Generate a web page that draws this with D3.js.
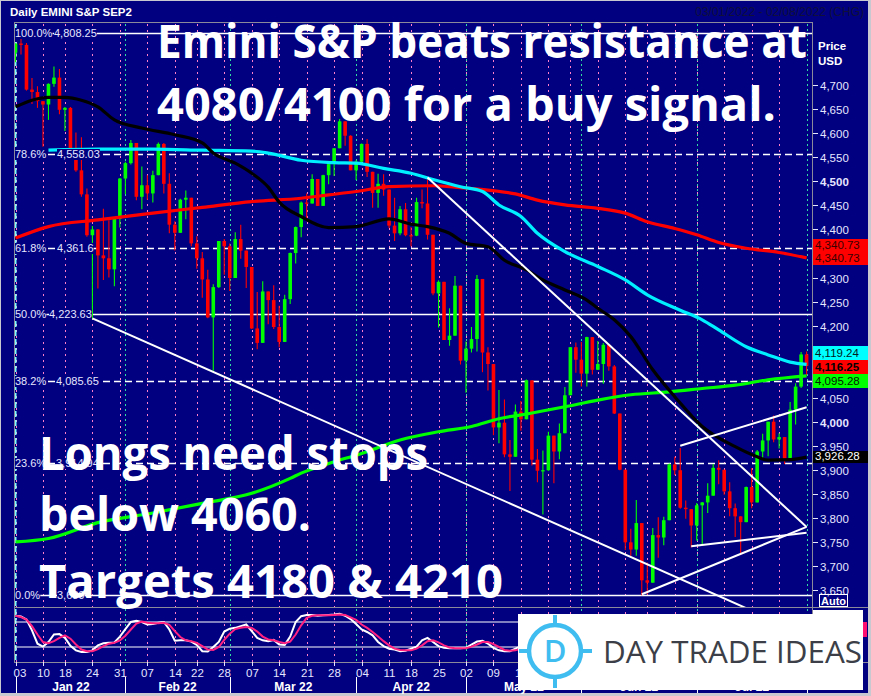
<!DOCTYPE html>
<html><head><meta charset="utf-8">
<script src="https://cdn.jsdelivr.net/npm/d3@7/dist/d3.min.js"></script>
<style>html,body{margin:0;padding:0;background:#fff;}svg{display:block;}</style>
</head><body>
<svg id="chart" width="871" height="696"></svg>
<script>
// ---------- DATA ----------
const jan=[3,4,5,6,7,10,11,12,13,14,18,19,20,21,24,25,26,27,28,31];
const feb=[1,2,3,4,7,8,9,10,11,14,15,16,17,18,22,23,24,25,28];
const mar=[1,2,3,4,7,8,9,10,11,14,15,16,17,18,21,22,23,24,25,28,29,30,31];
const apr=[1,4,5,6,7,8,11,12,13,14,18,19,20,21,22,25,26,27,28,29];
const may=[2,3,4,5,6,9,10,11,12,13,16,17,18,19,20,23,24,25,26,27,31];
const jun=[1,2,3,6,7,8,9,10,13,14,15,16,17,21,22,23,24,27,28,29,30];
const jul=[1,5,6,7,8,11,12,13,14,15,18,19,20,21,22,25,26,27,28,29];
const aug=[1];
const pad=n=>String(n).padStart(2,"0");
const dates=[jan,feb,mar,apr,may,jun,jul,aug].flatMap((ds,m)=>ds.map(d=>`2022-${pad(m+1)}-${pad(d)}`));

const openP=[4768,4787,4784,4691,4686,4667,4660,4703,4716,4649,4653,4567,4523,4473,4388,4400,4346,4340,4317,4422,
4506,4538,4580,4468,4492,4475,4513,4578,4495,4410,4393,4462,4466,4371,4340,4296,4217,4280,4376,
4365,4299,4380,4356,4322,4194,4164,4271,4253,4197,4166,4255,4351,4405,4456,4454,4505,4449,4513,4536,4569,4625,4595,
4523,4541,4578,4520,4476,4495,4483,4408,4392,4442,4388,4387,4457,4454,4389,4267,4291,4170,4179,4283,
4127,4152,4172,4297,4144,4120,3988,3998,3932,3927,4021,4005,4086,3921,3898,3899,3971,3938,3976,4055,4155,
4129,4100,4176,4108,4120,4160,4115,4017,3900,3749,3734,3789,3670,3665,3764,3759,3795,3911,3899,3821,3818,
3784,3826,3832,3846,3904,3900,3855,3820,3803,3791,3864,3832,3938,3961,4000,3963,3968,3922,4025,4073,
4140];
const highP=[4787,4808.25,4788,4715,4698,4667,4704,4739,4734,4655,4655,4602,4592,4485,4407,4401,4443,4419,4423,4507,
4541,4586,4580,4531,4513,4522,4581,4580,4517,4417,4464,4481,4466,4386,4353,4316,4286,4376,4380,
4371,4394,4410,4356,4322,4270,4292,4271,4284,4241,4264,4352,4406,4458,4475,4515,4505,4514,4539,4569,4630,4625,4596,
4544,4579,4588,4520,4516,4515,4483,4466,4449,4455,4405,4466,4483,4508,4389,4294,4291,4236,4303,4283,
4167,4197,4305,4297,4155,4120,4066,4046,3962,4036,4043,4088,4086,3943,3940,3979,3971,3996,4072,4155,4165,
4166,4177,4176,4168,4164,4160,4118,4017,3900,3777,3837,3789,3707,3779,3801,3802,3913,3927,3945,3836,3818,
3831,3833,3872,3912,3920,3900,3874,3830,3803,3865,3903,3941,3975,4000,4013,3976,3968,4041,4080,4145,
4146];
const lowP=[4748,4764,4689,4661,4653,4572,4628,4697,4640,4605,4559,4520,4468,4385,4213,4277,4295,4300,4282,4404,
4474,4535,4461,4442,4462,4456,4513,4475,4392,4356,4393,4421,4365,4318,4258,4215,4106,4278,4306,
4272,4299,4339,4278,4193,4151,4164,4203,4193,4155,4166,4245,4329,4384,4417,4454,4449,4449,4494,4511,4569,4574,4523,
4503,4534,4509,4445,4445,4470,4403,4376,4388,4386,4365,4386,4444,4379,4263,4196,4170,4158,4179,4119,
4060,4144,4146,4103,4065,3972,3955,3926,3856,3927,3981,4005,3909,3874,3807,3898,3872,3922,3976,4055,4102,
4073,4073,4098,4108,4079,4106,4016,3899,3733,3721,3721,3639,3641,3665,3717,3743,3795,3889,3819,3798,3738,
3753,3743,3810,3846,3870,3848,3803,3760,3723,3791,3820,3832,3923,3928,3957,3944,3912,3922,3994,4070,
4097];
const closeP=[4787,4784,4691,4686,4667,4660,4703,4716,4649,4653,4567,4523,4473,4388,4400,4346,4340,4317,4422,4506,
4538,4580,4468,4492,4475,4513,4578,4495,4410,4393,4462,4466,4371,4340,4296,4217,4280,4376,4365,
4299,4380,4356,4322,4194,4164,4271,4253,4197,4166,4255,4351,4405,4456,4454,4505,4449,4513,4536,4569,4625,4595,4523,
4541,4578,4520,4476,4495,4483,4408,4392,4442,4388,4387,4457,4454,4389,4267,4291,4170,4179,4283,4127,
4152,4172,4297,4144,4120,3988,3998,3932,3927,4021,4005,4086,3921,3898,3899,3971,3938,3976,4055,4155,4129,
4100,4176,4108,4120,4160,4115,4017,3900,3749,3734,3789,3670,3665,3764,3759,3795,3911,3899,3821,3818,3784,
3826,3832,3846,3904,3900,3855,3820,3803,3791,3864,3832,3938,3961,4000,3963,3968,3922,4025,4073,4140,
4116.25];

// moving averages (bar index, value)
const blackIdx=[0,3,6,9,12,15,18,23,29,34,36,40,43,46,48,52,57,62,68,72,75,79,82,86,89,93,96,100,104,106,109,112,116,120,125,131,135,137,141,144];
const blackVal=[4655,4669,4675,4675,4669,4655,4628,4611,4597,4580,4559,4538,4517,4488,4457,4427,4404,4406,4422,4411,4406,4392,4371,4364,4336,4316,4295,4274,4253,4236,4212,4177,4108,4052,3990,3948,3927,3920,3921,3926.28];
const cyanIdx=[6,15,25,34,43,46,52,58,62,67,72,76,81,85,88,92,95,100,106,111,115,121,125,128,133,137,141,144];
const cyanVal=[4565,4567,4567,4565,4563,4559,4544,4539,4538,4527,4517,4504,4489,4479,4451,4427,4392,4354,4323,4295,4264,4232,4212,4191,4156,4139,4124,4119.24];
const redIdx=[0,6,15,25,34,43,52,57,62,68,76,81,86,91,95,100,106,111,115,120,124,128,133,139,144];
const redVal=[4382,4406,4420,4434,4446,4458,4465,4472,4479,4489,4491,4487,4482,4474,4461,4451,4444,4434,4416,4402,4389,4373,4361,4352,4340.73];
const greenIdx=[0,6,15,25,34,43,50,52,57,63,70,77,83,88,94,100,106,112,119,125,131,137,144];
const greenVal=[3750,3757,3790,3810,3830,3851,3882,3893,3913,3934,3962,3979,3990,4006,4018,4031,4045,4056,4062,4069,4076,4087,4095.28];

// trend lines (bar index, price) start / end
const trendFrom=[[14,4215],[75,4508],[121,3950],[123,3741],[114,3641]];
const trendTo=[[133,3612],[144,3781],[144,4030],[144,3769],[144,3781]];

// Fibonacci retracement
const fibPct=["100.0%","78.6%","61.8%","50.0%","38.2%","23.6%","0.0%"];
const fibPrice=[4808.25,4558.03,4361.6,4223.63,4085.65,3914.94,3639.00];
const fibText=["4,808.25","4,558.03","4,361.6","4,223.63","4,085.65","3,914.94","3,639"];
const fibDashed=[false,true,true,false,true,true,false];

// stochastic (bars 0..92, the rest hidden by the logo)
const stochK=[95,93,86,60,28,21,32,50,51,42,23,12,8,8,12,24,29,30,31,45,63,80,83,80,74,75,78,80,62,35,36,36,33,25,10,9,20,32,57,64,66,70,74,58,42,36,34,37,26,25,45,80,94,97,97,95,96,97,98,100,95,87,75,62,56,48,32,22,16,14,10,11,16,21,36,42,32,22,18,17,17,17,18,26,33,35,28,18,12,10,10,16,22];
const stochD=[95,92,86,70,50,32,29,34,42,48,40,26,14,10,10,15,22,28,30,36,47,62,76,81,78,77,77,78,73,58,44,36,34,30,22,14,13,20,37,52,63,66,68,66,57,45,38,36,32,29,33,50,72,90,95,96,96,96,97,98,97,91,85,74,66,56,45,34,24,16,13,12,12,16,24,34,36,31,24,19,17,17,17,21,26,32,32,27,20,13,11,12,16];

// axis
const priceTicks=[3650,3700,3750,3800,3850,3900,3950,4000,4050,4200,4250,4300,4400,4450,4500,4550,4600,4650,4700];
const hiddenTicks=[4100,4150,4350];
const weekBars=["2022-01-03","2022-01-10","2022-01-14","2022-01-24","2022-01-31","2022-02-07","2022-02-14","2022-02-18","2022-02-28","2022-03-07","2022-03-14","2022-03-21","2022-03-28","2022-04-04","2022-04-11","2022-04-18","2022-04-25","2022-05-02","2022-05-09","2022-05-16","2022-05-23","2022-05-27","2022-06-06","2022-06-13","2022-06-17","2022-06-27","2022-07-01","2022-07-11","2022-07-18","2022-07-25"];
const weekLabels=["03","10","18","24","31","07","14","22","28","07","14","21","28","04","11","18","25","02","09","16","23","31","06","13","21","27","05","11","18","25"];
const monthStarts=["2022-01-03","2022-02-01","2022-03-01","2022-04-01","2022-05-02","2022-06-01","2022-07-01","2022-08-01"];
const monthLabels=["Jan 22","Feb 22","Mar 22","Apr 22","May 22","Jun 22","Jul 22"];

// ---------- DRAW ----------
const NAVY="#000080", AX="#e6e6ff", FONT="'Liberation Sans',Arial,sans-serif";
const L=14,R=812,T=22,MB=607,PB=662;
const svg=d3.select("#chart");
svg.append("rect").attr("width",871).attr("height",696).attr("fill","#c8c8d0");
svg.append("rect").attr("x",1).attr("y",1).attr("width",867).attr("height",692).attr("fill",NAVY);

const x=d3.scalePoint().domain(dates).range([15.5,806.6]);
const y=d3.scaleLinear().domain([3614.4,4831.7]).range([MB,T]);
const ys=d3.scaleLinear().domain([-16,116]).range([PB,MB]);

const defs=svg.append("defs");
defs.append("clipPath").attr("id","cm").append("rect").attr("x",L).attr("y",T).attr("width",R-L).attr("height",MB-T);
defs.append("clipPath").attr("id","cs").append("rect").attr("x",L).attr("y",MB).attr("width",R-L).attr("height",PB-MB);

// title texts
svg.append("text").attr("x",10).attr("y",16).attr("fill","#fff").attr("font-family",FONT).attr("font-weight","bold").attr("font-size",11.5).text("Daily EMINI S&P SEP2");
svg.append("text").attr("x",864).attr("y",16).attr("text-anchor","end").attr("fill","#10103a").attr("font-family",FONT).attr("font-size",12).text("03/01/2022 - 02/08/2022 (CHG)");

// vertical grid lines
const grid=svg.append("g");
weekBars.forEach(d=>{
  grid.append("line").attr("x1",Math.round(x(d))+0.5).attr("x2",Math.round(x(d))+0.5).attr("y1",T+2).attr("y2",PB)
   .attr("stroke","#ff80c8").attr("stroke-width",1).attr("stroke-dasharray","2,4");
});
monthStarts.slice(1).forEach(d=>{
  grid.append("line").attr("x1",Math.round(x(d))+0.5).attr("x2",Math.round(x(d))+0.5).attr("y1",T+2).attr("y2",PB)
   .attr("stroke","#30e0a0").attr("stroke-width",1).attr("stroke-dasharray","2,3");
});
grid.append("line").attr("x1",15.5).attr("x2",15.5).attr("y1",T+2).attr("y2",PB)
  .attr("stroke","#80ffff").attr("stroke-width",2).attr("stroke-dasharray","6,3");

// fib lines
const fibG=svg.append("g");
fibPrice.forEach((p,i)=>{
  fibG.append("line").attr("x1",L+1).attr("x2",R).attr("y1",Math.round(y(p))+0.5).attr("y2",Math.round(y(p))+0.5)
   .attr("stroke","#fff").attr("stroke-width",1.3).attr("stroke-dasharray",fibDashed[i]?"7,4":null);
});

// candles
const cg=svg.append("g").attr("clip-path","url(#cm)");
const bw=3.6;
dates.forEach((d,i)=>{
  const o=openP[i],c=closeP[i],h=highP[i],l=lowP[i];
  const col=c>=o?"#00ff00":"#ff0000";
  const cx=x(d);
  cg.append("line").attr("x1",cx).attr("x2",cx).attr("y1",y(h)).attr("y2",y(l)).attr("stroke",col).attr("stroke-width",1.1);
  const top=y(Math.max(o,c)),bot=y(Math.min(o,c));
  cg.append("rect").attr("x",cx-bw/2).attr("y",top).attr("width",bw).attr("height",Math.max(1.2,bot-top)).attr("fill",col);
});

// moving averages
const maLine=d3.line().x(d=>x(dates[d[0]])).y(d=>y(d[1])).curve(d3.curveMonotoneX);
const mg=svg.append("g").attr("clip-path","url(#cm)");
[[redIdx,redVal,"#ff0000"],[cyanIdx,cyanVal,"#00f0ff"],[greenIdx,greenVal,"#00ff00"],[blackIdx,blackVal,"#000000"]].forEach(([ix,v,col])=>{
  mg.append("path").attr("d",maLine(ix.map((k,j)=>[k,v[j]]))).attr("fill","none").attr("stroke",col).attr("stroke-width",3.2);
});

// trend lines
const tg=svg.append("g").attr("clip-path","url(#cm)");
trendFrom.forEach((a,i)=>{
  const b=trendTo[i];
  tg.append("line").attr("x1",x(dates[a[0]])).attr("y1",y(a[1])).attr("x2",x(dates[b[0]])).attr("y2",y(b[1]))
   .attr("stroke","#fff").attr("stroke-width",2);
});

// fib labels
const fl=svg.append("g").attr("font-family",FONT).attr("font-size",11).attr("fill",AX);
const valX=[54,57,57,49,56,56,57];
fibPrice.forEach((p,i)=>{
  const yy=Math.round(y(p));
  const t1=fl.append("text").attr("x",15).attr("y",yy+4).text(fibPct[i]);
  const t2=fl.append("text").attr("x",valX[i]).attr("y",yy+4).text(fibText[i]);
  [t1,t2].forEach(t=>{const bb=t.node().getBBox();
    fl.insert("rect","text").attr("x",bb.x).attr("y",bb.y+1).attr("width",bb.width).attr("height",bb.height-1).attr("fill",NAVY);});
});

// stochastic panel
svg.append("line").attr("x1",L).attr("x2",R).attr("y1",ys(80)).attr("y2",ys(80)).attr("stroke","#fff").attr("stroke-width",1);
svg.append("line").attr("x1",L).attr("x2",R).attr("y1",ys(20)).attr("y2",ys(20)).attr("stroke","#fff").attr("stroke-width",1);
const sl=d3.line().x((d,i)=>x(dates[i])).y(d=>ys(d)).curve(d3.curveLinear);
const sg=svg.append("g").attr("clip-path","url(#cs)");
sg.append("path").attr("d",sl(stochK)).attr("fill","none").attr("stroke","#ffffff").attr("stroke-width",2);
sg.append("path").attr("d",sl(stochD)).attr("fill","none").attr("stroke","#ff2080").attr("stroke-width",2);

// frames
const fr=svg.append("g").attr("stroke","#8a8a9a").attr("fill","none");
fr.append("rect").attr("x",L+0.5).attr("y",T+0.5).attr("width",R-L).attr("height",PB-T);
fr.append("line").attr("x1",L).attr("x2",868).attr("y1",MB+0.5).attr("y2",MB+0.5);
fr.append("line").attr("x1",L).attr("x2",868).attr("y1",PB+0.5).attr("y2",PB+0.5);

// right price axis
const ax=svg.append("g").attr("font-family",FONT).attr("font-size",11.5).attr("fill",AX);
hiddenTicks.forEach(p=>{
  const yy=Math.round(y(p))+0.5;
  ax.append("line").attr("x1",R+1).attr("x2",R+6).attr("y1",yy).attr("y2",yy).attr("stroke",AX);
});
priceTicks.forEach(p=>{
  const yy=Math.round(y(p))+0.5;
  ax.append("line").attr("x1",R+1).attr("x2",R+6).attr("y1",yy).attr("y2",yy).attr("stroke",AX);
  ax.append("text").attr("x",R+8).attr("y",yy+4).attr("font-weight",(p===4500||p===4000)?"bold":"normal").text(d3.format(",")(p));
});
ax.append("text").attr("x",R+6).attr("y",50).attr("font-weight","bold").attr("fill","#fff").text("Price");
ax.append("text").attr("x",R+6).attr("y",65).attr("font-weight","bold").attr("fill","#fff").text("USD");

// value boxes
const boxes=[
  {y:239,h:13,fill:"#ff0000",col:"#3a0000",t:"4,340.73",b:false},
  {y:252,h:13,fill:"#ff0000",col:"#3a0000",t:"4,340.73",b:false},
  {y:346,h:14,fill:"#00ffff",col:"#002020",t:"4,119.24",b:false},
  {y:360,h:14,fill:"#ff0000",col:"#000",t:"4,116.25",b:true},
  {y:374,h:14,fill:"#00ff00",col:"#002000",t:"4,095.28",b:false},
  {y:451,h:12,fill:"#000000",col:"#fff",t:"3,926.28",b:false}];
boxes.forEach(b=>{
  ax.append("rect").attr("x",R+1).attr("y",b.y).attr("width",868-R-1).attr("height",b.h).attr("fill",b.fill);
  ax.append("text").attr("x",R+3).attr("y",b.y+b.h-3).attr("fill",b.col).attr("font-weight",b.b?"bold":"normal").text(b.t);
});
ax.append("rect").attr("x",819.5).attr("y",594.5).attr("width",28).attr("height",12).attr("fill","none").attr("stroke","#fff");
ax.append("text").attr("x",833.5).attr("y",604.5).attr("text-anchor","middle").attr("fill","#fff").attr("font-weight","bold").attr("font-size",11).text("Auto");
ax.append("rect").attr("x",R+1).attr("y",610).attr("width",50).attr("height",12).attr("fill","#fff");
ax.append("rect").attr("x",863).attr("y",622).attr("width",4).attr("height",15).attr("fill","#ff1070");

// bottom date axis
const bx=svg.append("g").attr("font-family",FONT).attr("fill",AX);
weekBars.forEach((d,i)=>{
  const xx=Math.round(x(d))+0.5;
  bx.append("line").attr("x1",xx).attr("x2",xx).attr("y1",PB).attr("y2",PB+4).attr("stroke",AX);
  bx.append("text").attr("x",Math.max(xx,20)).attr("y",677).attr("text-anchor","middle").attr("font-size",11.5).text(weekLabels[i]);
});
monthStarts.forEach((d,i)=>{
  const xx=Math.round(x(d))+0.5;
  bx.append("line").attr("x1",xx).attr("x2",xx).attr("y1",677).attr("y2",693).attr("stroke","#fff");
  if(i<monthLabels.length){
    const nx=x(monthStarts[i+1]);
    bx.append("text").attr("x",(xx+nx)/2).attr("y",691).attr("text-anchor","middle").attr("font-weight","bold").attr("font-size",12).attr("fill","#fff").text(monthLabels[i]);
  }
});

// annotation text
const big=svg.append("g").attr("font-family","'Open Sans',sans-serif").attr("font-weight",700).attr("font-size",46).attr("fill","#fff");
[["Emini S&P beats resistance at",157,58,650],["4080/4100 for a buy signal.",157,121,619],["Longs need stops",39,470,389],["below 4060.",39,531,272],["Targets 4180 & 4210",39,598,464]]
 .forEach(([t,xx,yy,w])=>big.append("text").attr("x",xx).attr("y",yy).attr("textLength",w).attr("lengthAdjust","spacingAndGlyphs").text(t));

// logo watermark
const wm=svg.append("g");
wm.append("rect").attr("x",518).attr("y",614).attr("width",345).attr("height",76).attr("fill","#fff");
const lc="#3fbdf0";
wm.append("circle").attr("cx",555).attr("cy",651).attr("r",26).attr("fill","none").attr("stroke",lc).attr("stroke-width",4.5);
[[555,615,555,626],[555,676,555,688],[519,651,530,651],[580,651,592,651]].forEach(s=>
  wm.append("line").attr("x1",s[0]).attr("y1",s[1]).attr("x2",s[2]).attr("y2",s[3]).attr("stroke",lc).attr("stroke-width",4));
wm.append("text").attr("x",555).attr("y",662).attr("text-anchor","middle").attr("font-family","'Open Sans',sans-serif").attr("font-weight",600).attr("font-size",31).attr("fill",lc).text("D");
wm.append("text").attr("x",603).attr("y",663).attr("font-family","'Open Sans',sans-serif").attr("font-weight",400).attr("font-size",31).attr("fill","#3c3f48").attr("textLength",259).attr("lengthAdjust","spacingAndGlyphs").text("DAY TRADE IDEAS");
</script>
</body></html>
